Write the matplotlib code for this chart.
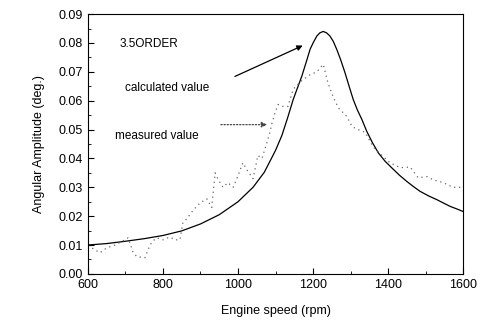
import matplotlib
matplotlib.use("Agg")
import matplotlib.pyplot as plt
from matplotlib.ticker import MultipleLocator

plt.rcParams['font.family'] = ['Liberation Sans', 'DejaVu Sans']

# calculated value (solid line)
calc_rpm = [600, 650, 700, 750, 800, 850, 900, 950, 1000, 1040, 1070, 1100,
            1117, 1132, 1147, 1160, 1170, 1182, 1192, 1200, 1210, 1218, 1227,
            1236, 1245, 1254, 1263, 1274, 1285, 1296, 1307, 1318, 1330, 1343,
            1358, 1374, 1392, 1410, 1430, 1450, 1468, 1485, 1508, 1530, 1548,
            1565, 1583, 1600]
calc_amp = [0.0100, 0.0105, 0.0113, 0.0122, 0.0133, 0.0149, 0.0173, 0.0205,
            0.0250, 0.0300, 0.0352, 0.0428, 0.0480, 0.0540, 0.0604, 0.0650,
            0.0685, 0.0735, 0.0778, 0.0800, 0.0824, 0.0835, 0.0840, 0.0835,
            0.0824, 0.0805, 0.0778, 0.0740, 0.0697, 0.0650, 0.0604, 0.0568,
            0.0535, 0.0494, 0.0455, 0.0419, 0.0390, 0.0367, 0.0342, 0.0320,
            0.0302, 0.0286, 0.0270, 0.0257, 0.0245, 0.0234, 0.0225, 0.0216]

# measured value (dotted line)
meas_rpm = [600, 632, 650, 672, 699, 707, 720, 730, 752, 760, 770, 783, 800,
            818, 832, 845, 853, 863, 880, 899, 917, 930, 939, 947, 960, 973,
            987, 1000, 1013, 1024, 1040, 1053, 1064, 1077, 1085, 1090, 1099,
            1107, 1120, 1133, 1147, 1170, 1192, 1210, 1227, 1240, 1253, 1267,
            1290, 1304, 1320, 1339, 1360, 1387, 1405, 1432, 1459, 1480, 1504,
            1520, 1547, 1573, 1600]
meas_amp = [0.0098, 0.0073, 0.0090, 0.0100, 0.0118, 0.0125, 0.0076, 0.0060,
            0.0056, 0.0083, 0.0110, 0.0125, 0.0118, 0.0128, 0.0118, 0.0118,
            0.0177, 0.0190, 0.0220, 0.0246, 0.0260, 0.0230, 0.0350, 0.0327,
            0.0300, 0.0316, 0.0300, 0.0340, 0.0385, 0.0360, 0.0330, 0.0410,
            0.0400, 0.0455, 0.0490, 0.0520, 0.0560, 0.0587, 0.0580, 0.0580,
            0.0640, 0.0670, 0.0690, 0.0700, 0.0726, 0.0660, 0.0615, 0.0576,
            0.0545, 0.0510, 0.0500, 0.0490, 0.0440, 0.0406, 0.0385, 0.0368,
            0.0370, 0.0333, 0.0337, 0.0326, 0.0316, 0.0300, 0.0300]

fig = plt.figure(figsize=(4.83, 3.28), dpi=100)
ax = fig.add_axes([0.182, 0.165, 0.777, 0.792])

ax.plot(calc_rpm, calc_amp, color='black', lw=0.9)
ax.plot(meas_rpm, meas_amp, color='#666666', lw=0.9, ls=(0, (1, 3)))

ax.set_xlim(600, 1600)
ax.set_ylim(0, 0.09)
ax.xaxis.set_major_locator(MultipleLocator(200))
ax.xaxis.set_minor_locator(MultipleLocator(100))
ax.yaxis.set_major_locator(MultipleLocator(0.01))
ax.yaxis.set_minor_locator(MultipleLocator(0.005))
ax.yaxis.set_major_formatter(plt.FormatStrFormatter('%.2f'))
ax.tick_params(which='both', direction='in', top=False, right=False, labelsize=9)
ax.tick_params(which='major', length=4)
ax.tick_params(which='minor', length=2)

ax.set_xlabel("Engine speed (rpm)", fontsize=9, labelpad=10)
ax.set_ylabel("Angular Amplitude (deg.)", fontsize=9, labelpad=10)

ax.text(685, 0.0795, "3.5ORDER", fontsize=8.5, va='center')
ax.text(699, 0.0645, "calculated value", fontsize=8.5, va='center')
ax.text(672, 0.0476, "measured value", fontsize=8.5, va='center')

ax.annotate("", xy=(1179, 0.0795), xytext=(985, 0.0680),
            arrowprops=dict(arrowstyle='-|>', color='black', lw=0.9,
                            mutation_scale=8))
ax.annotate("", xy=(1085, 0.0517), xytext=(947, 0.0517),
            arrowprops=dict(arrowstyle='-|>', color='#444444', lw=0.9,
                            ls=(0, (1, 1.5)), mutation_scale=8))

fig.savefig("out.png", dpi=100)
